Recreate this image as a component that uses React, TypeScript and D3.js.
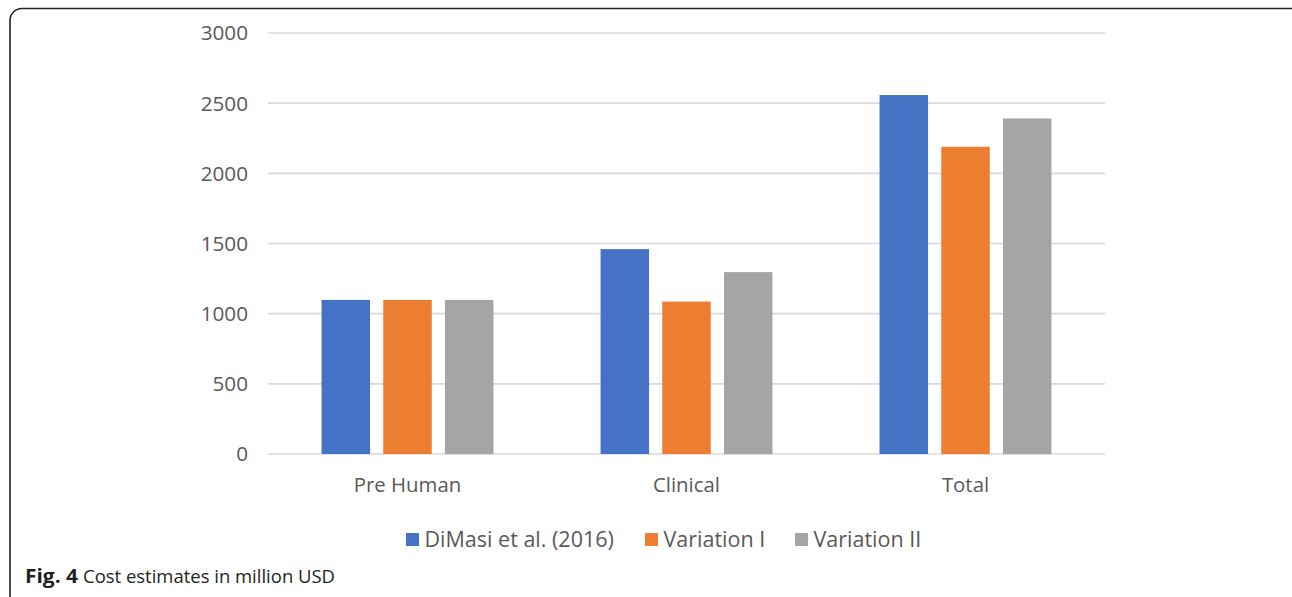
import React from "react";
import * as d3 from "d3";

const categories = ["Pre Human", "Clinical", "Total"];
const seriesNames = ["DiMasi et al. (2016)", "Variation I", "Variation II"];
const dimasi = [1098, 1460, 2558];
const variation1 = [1098, 1086, 2189];
const variation2 = [1098, 1296, 2391];
const yTicks = [0, 500, 1000, 1500, 2000, 2500, 3000];
const colors = ["#4472C4", "#ED7D31", "#A5A5A5"];

const W = 1292;
const H = 597;

export default function App() {
  const series = [dimasi, variation1, variation2];
  const x0 = d3.scaleBand<string>().domain(categories).range([268, 1105]).paddingInner(0).paddingOuter(0);
  const y = d3.scaleLinear().domain([0, 3000]).range([454, 33]);
  const barW = 48.5;
  const step = 61.7;
  const font = "'Open Sans', 'Segoe UI', sans-serif";
  const legendItems = [
    { x: 406, name: seriesNames[0], c: colors[0] },
    { x: 645, name: seriesNames[1], c: colors[1] },
    { x: 795, name: seriesNames[2], c: colors[2] },
  ];
  return (
    <svg width={W} height={H} style={{ position: "absolute", left: 0, top: 0, display: "block" }}>
      <rect x={0} y={0} width={W} height={H} fill="#fff" />
      <rect x={10} y={8.5} width={W + 5} height={H + 20} rx={12} ry={12} fill="none" stroke="#222" strokeWidth={1.6} />
      {yTicks.map((t) => (
        <g key={t}>
          <line x1={268} x2={1105} y1={y(t)} y2={y(t)} stroke="#D9D9D9" strokeWidth={1.6} />
          <text x={248} y={y(t)} dy="0.36em" textAnchor="end" fontFamily={font} fontSize={20.7} fill="#595959">
            {t}
          </text>
        </g>
      ))}
      {categories.map((c, i) => {
        const cx = (x0(c) as number) + x0.bandwidth() / 2;
        return (
          <g key={c}>
            {series.map((s, j) => {
              const bx = cx + (j - 1) * step - barW / 2;
              return (
                <rect key={j} x={bx} y={y(s[i])} width={barW} height={y(0) - y(s[i])} fill={colors[j]} />
              );
            })}
            <text x={cx} y={492} textAnchor="middle" fontFamily={font} fontSize={20.4} fill="#595959">
              {c}
            </text>
          </g>
        );
      })}
      {legendItems.map((l) => (
        <g key={l.name}>
          <rect x={l.x} y={533} width={13} height={13} fill={l.c} />
          <text x={l.x + 18.5} y={547} fontFamily={font} fontSize={21.5} fill="#595959">
            {l.name}
          </text>
        </g>
      ))}
      <text
        x={25}
        y={583}
        fontFamily={font}
        fontSize={19}
        fontWeight="bold"
        fill="#231F20"
        textLength={53}
        lengthAdjust="spacingAndGlyphs"
      >
        Fig. 4
      </text>
      <text
        x={83}
        y={583}
        fontFamily={font}
        fontSize={18.5}
        fill="#231F20"
        textLength={252}
        lengthAdjust="spacingAndGlyphs"
      >
        Cost estimates in million USD
      </text>
    </svg>
  );
}
